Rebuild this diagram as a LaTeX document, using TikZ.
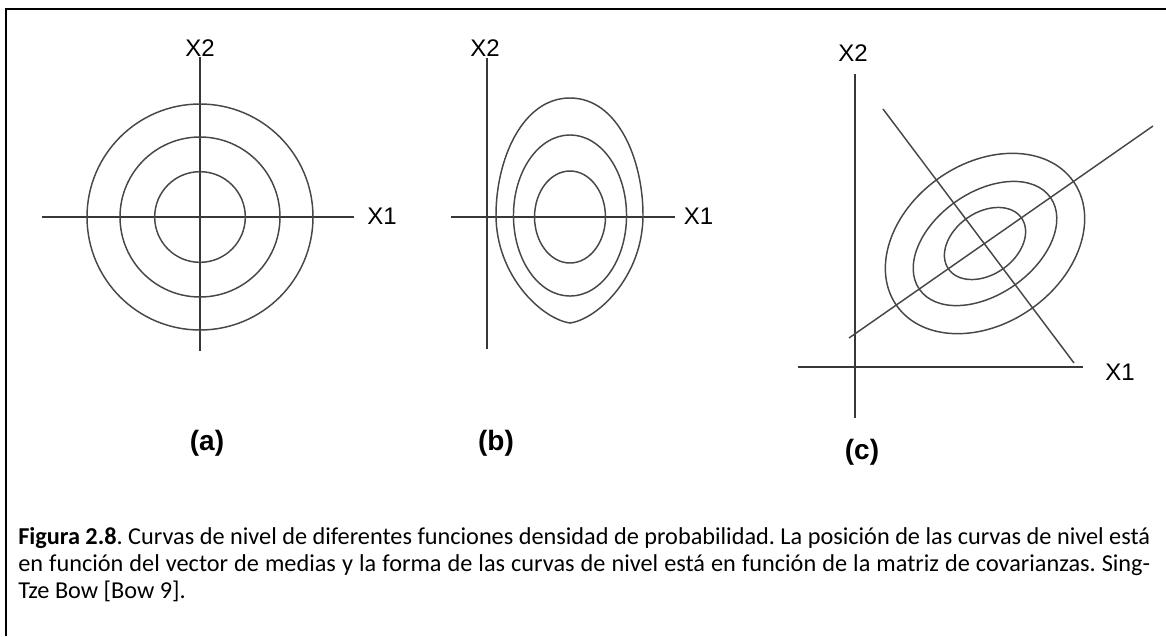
\documentclass[tikz,border=0pt]{standalone}
\usepackage{fontspec}
\setmainfont{Carlito}
\newfontfamily\arialf{Liberation Sans}
\frenchspacing
\begin{document}
\begin{tikzpicture}[x=0.75pt,y=-0.75pt,
  axis/.style={line width=1.5pt, draw=black!78},
  curve/.style={line width=1.1pt, draw=black!72},
  axlabel/.style={font=\arialf\fontsize{18}{20}\selectfont, inner sep=0pt, text=black},
  panellabel/.style={font=\arialf\bfseries\fontsize{21}{24}\selectfont, inner sep=0pt},
  capline/.style={font=\frenchspacing\fontsize{18.2}{21}\selectfont, inner sep=0pt, anchor=base west},
  frameline/.style={line width=1.6pt, draw=black}]
\useasboundingbox (0,0) rectangle (1166,636);
% frame
\coordinate (fl) at (6,636);
\coordinate (fc) at (6,9);
\coordinate (fr) at (1166,9);
\draw[frameline] (fl) -- (fc) -- (fr);

% ---------- panel (a)
\coordinate (ac) at (200,217);
\coordinate (ahl) at (42,217);
\coordinate (ahr) at (354,217);
\coordinate (avt) at (200,57);
\coordinate (avb) at (200,351);
\draw[axis] (ahl) -- (ahr);
\draw[axis] (avt) -- (avb);
\draw[curve] (ac) circle [radius=84.75pt];
\draw[curve] (ac) circle [radius=60pt];
\draw[curve] (ac) circle [radius=34pt];
\node[axlabel] (ax2) at (200,48) {X2};
\node[axlabel] (ax1) at (382,216) {X1};
\node[panellabel] (la) at (207,443) {(a)};

% ---------- panel (b)
\coordinate (bhl) at (451,217);
\coordinate (bhr) at (675,217);
\coordinate (bvt) at (487,58);
\coordinate (bvb) at (487,349);
\draw[axis] (bhl) -- (bhr);
\draw[axis] (bvt) -- (bvb);
\draw[curve] (570,98) .. controls (618,98) and (643,160) .. (643,215)
  .. controls (643,276) and (598,319) .. (570,323)
  .. controls (542,319) and (496,276) .. (496,215)
  .. controls (496,160) and (522,98) .. (570,98) -- cycle;
\draw[curve] (570,215.5) ellipse [x radius=42.4pt, y radius=60.4pt];
\draw[curve] (570,217) ellipse [x radius=26.6pt, y radius=34.5pt];
\node[axlabel] (bx2) at (485,48) {X2};
\node[axlabel] (bx1) at (698.5,216) {X1};
\node[panellabel] (lb) at (496,443) {(b)};

% ---------- panel (c)
\coordinate (chl) at (798,367);
\coordinate (chr) at (1083,367);
\coordinate (cvt) at (855,74);
\coordinate (cvb) at (855,418);
\draw[axis] (chl) -- (chr);
\draw[axis] (cvt) -- (cvb);
\coordinate (d1a) at (849,338);
\coordinate (d1b) at (1153,126);
\coordinate (d2a) at (883,109);
\coordinate (d2b) at (1074,363);
\draw[curve] (d1a) -- (d1b);
\draw[curve] (d2a) -- (d2b);
\coordinate (cc) at (985,243.5);
\draw[curve, rotate around={35:(cc)}] (cc) ellipse [x radius=81pt, y radius=60pt];
\draw[curve, rotate around={35:(cc)}] (cc) ellipse [x radius=60pt, y radius=38.3pt];
\draw[curve, rotate around={35:(cc)}] (cc) ellipse [x radius=33.4pt, y radius=23.3pt];
\node[axlabel] (cx2) at (853,53) {X2};
\node[axlabel] (cx1) at (1120,372) {X1};
\node[panellabel] (lc) at (862,452) {(c)};

% ---------- caption
\node[capline] (cap1) at (18,544) {\makebox[849pt][s]{\textbf{Figura 2.8}. Curvas de nivel de diferentes funciones densidad de probabilidad. La posición de las curvas de nivel está}};
\node[capline] (cap2) at (18,571) {\makebox[849pt][s]{en función del vector de medias y la forma de las curvas de nivel está en función de la matriz de covarianzas. Sing-}};
\node[capline] (cap3) at (18,598) {Tze Bow [Bow 9].};
\end{tikzpicture}
\end{document}
